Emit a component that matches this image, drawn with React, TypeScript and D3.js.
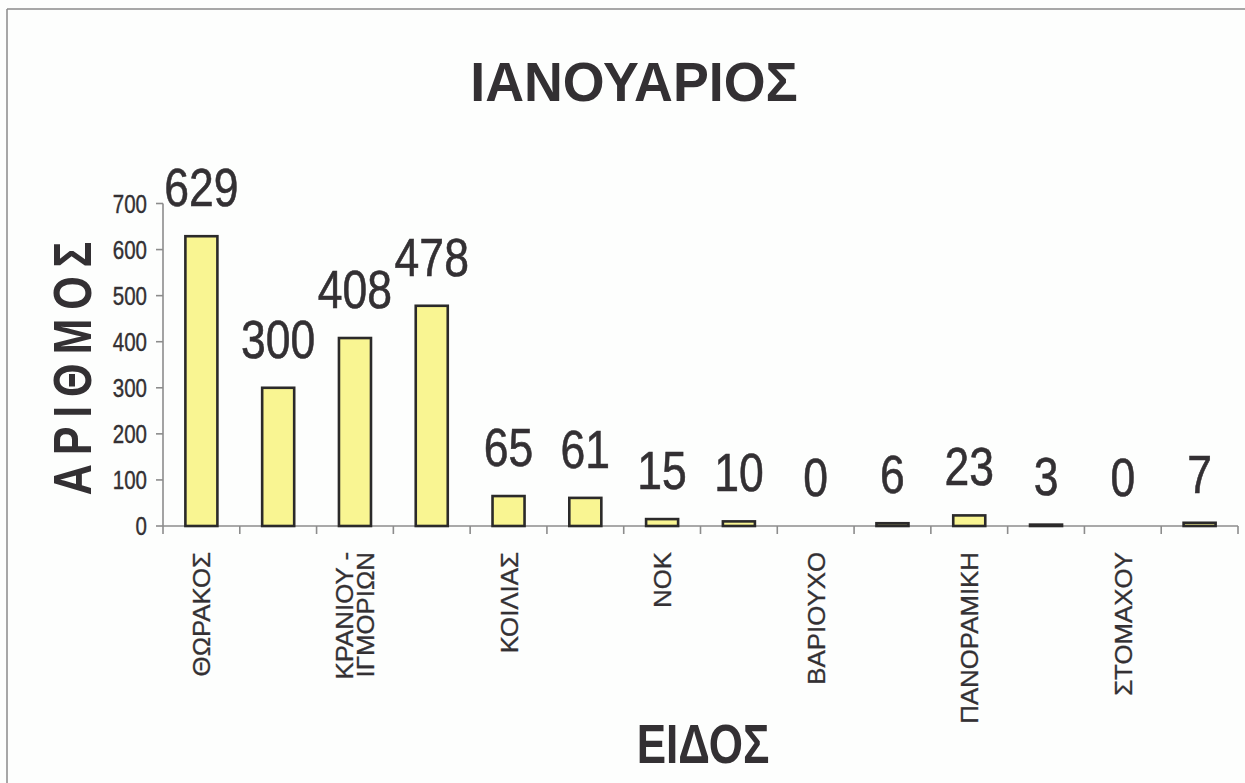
import React from "react";
import * as d3 from "d3";

const title = "ΙΑΝΟΥΑΡΙΟΣ";
const yAxisTitle = "ΑΡΙΘΜΟΣ";
const xAxisTitle = "ΕΙΔΟΣ";
const categories: string[][] = [
  ["ΘΩΡΑΚΟΣ"],
  [],
  ["ΚΡΑΝΙΟΥ -", "ΙΓΜΟΡΙΩΝ"],
  [],
  ["ΚΟΙΛΙΑΣ"],
  [],
  ["ΝΟΚ"],
  [],
  ["ΒΑΡΙΟΥΧΟ"],
  [],
  ["ΠΑΝΟΡΑΜΙΚΗ"],
  [],
  ["ΣΤΟΜΑΧΟΥ"],
  [],
];
const values: number[] = [629, 300, 408, 478, 65, 61, 15, 10, 0, 6, 23, 3, 0, 7];
const yTicks: number[] = [0, 100, 200, 300, 400, 500, 600, 700];

const W = 1245;
const H = 783;
const FONT = "'Liberation Sans', Arial, Helvetica, sans-serif";
const INK = "#333033";

export default function App() {
  const x0 = 163;
  const x1 = 1238;
  const yBase = 526;
  const yTop = 203.5;
  const idx = values.map((_, i) => String(i));
  const x = d3
    .scaleBand<string>()
    .domain(idx)
    .range([x0, x1])
    .paddingInner(0.583)
    .paddingOuter(0.2915);
  const step = x.step();
  const y = d3.scaleLinear().domain([0, 700]).range([yBase, yTop]);

  return (
    <svg
      width={W}
      height={H}
      viewBox={`0 0 ${W} ${H}`}
      style={{ position: "absolute", left: 0, top: 0, background: "#fdfefd" }}
    >
      <rect x={0} y={0} width={W} height={H} fill="#fdfefd" />
      {/* scan frame */}
      <line x1={7} y1={9} x2={W} y2={9} stroke="#8a8a8a" strokeWidth={1.5} />
      <line x1={7} y1={9} x2={7} y2={H} stroke="#8a8a8a" strokeWidth={1.5} />

      {/* title */}
      <text
        transform={`translate(634,101) scale(0.96,1)`}
        textAnchor="middle"
        fontFamily={FONT}
        fontWeight="bold"
        fontSize={56}
        fill={INK}
      >
        {title}
      </text>

      {/* y axis title */}
      <text
        transform={`translate(91,364) rotate(-90) scale(0.8,1)`}
        textAnchor="middle"
        fontFamily={FONT}
        fontWeight="bold"
        fontSize={54}
        letterSpacing={11}
        fill={INK}
      >
        {yAxisTitle}
      </text>

      {/* x axis title */}
      <text
        transform={`translate(703,763) scale(0.8,1)`}
        textAnchor="middle"
        fontFamily={FONT}
        fontWeight="bold"
        fontSize={55}
        fill={INK}
      >
        {xAxisTitle}
      </text>

      {/* y axis */}
      <line x1={x0} y1={y(700)} x2={x0} y2={yBase} stroke="#8c8c8c" strokeWidth={1.6} />
      {yTicks.map((t) => (
        <g key={t}>
          <line x1={x0 - 7} x2={x0} y1={y(t)} y2={y(t)} stroke="#8c8c8c" strokeWidth={1.6} />
          <text
            transform={`translate(147,${y(t) + 9}) scale(0.82,1)`}
            textAnchor="end"
            fontFamily={FONT}
            fontSize={25}
            fill={INK}
            stroke={INK}
            strokeWidth={0.4}
          >
            {t}
          </text>
        </g>
      ))}

      {/* x axis */}
      <line x1={x0} y1={yBase} x2={x1} y2={yBase} stroke="#8c8c8c" strokeWidth={1.6} />
      {d3.range(values.length + 1).map((i) => (
        <line
          key={i}
          x1={x0 + i * step}
          x2={x0 + i * step}
          y1={yBase}
          y2={yBase + 8}
          stroke="#8c8c8c"
          strokeWidth={1.6}
        />
      ))}

      {/* bars */}
      {values.map((v, i) =>
        v > 0 ? (
          <rect
            key={i}
            x={x(String(i))!}
            y={y(v)}
            width={x.bandwidth()}
            height={yBase - y(v)}
            fill="#f9f592"
            stroke="#2b2a2a"
            strokeWidth={2.6}
          />
        ) : null
      )}

      {/* value labels */}
      {values.map((v, i) => (
        <text
          key={i}
          transform={`translate(${x(String(i))! + x.bandwidth() / 2},${y(v) - 30}) scale(0.84,1)`}
          textAnchor="middle"
          fontFamily={FONT}
          fontSize={53}
          fill={INK}
          stroke={INK}
          strokeWidth={0.6}
        >
          {v}
        </text>
      ))}

      {/* category labels */}
      {categories.map((lines, i) => {
        if (!lines.length) return null;
        const cx = x(String(i))! + x.bandwidth() / 2;
        const lh = 21;
        const first = cx + 9 - ((lines.length - 1) * lh) / 2;
        return (
          <g key={i}>
            {lines.map((ln, j) => (
              <text
                key={j}
                transform={`translate(${first + j * lh},552) rotate(-90) scale(1.1,1)`}
                textAnchor="end"
                fontFamily={FONT}
                fontSize={23.5}
                fill={INK}
                stroke={INK}
                strokeWidth={0.3}
              >
                {ln}
              </text>
            ))}
          </g>
        );
      })}
    </svg>
  );
}
